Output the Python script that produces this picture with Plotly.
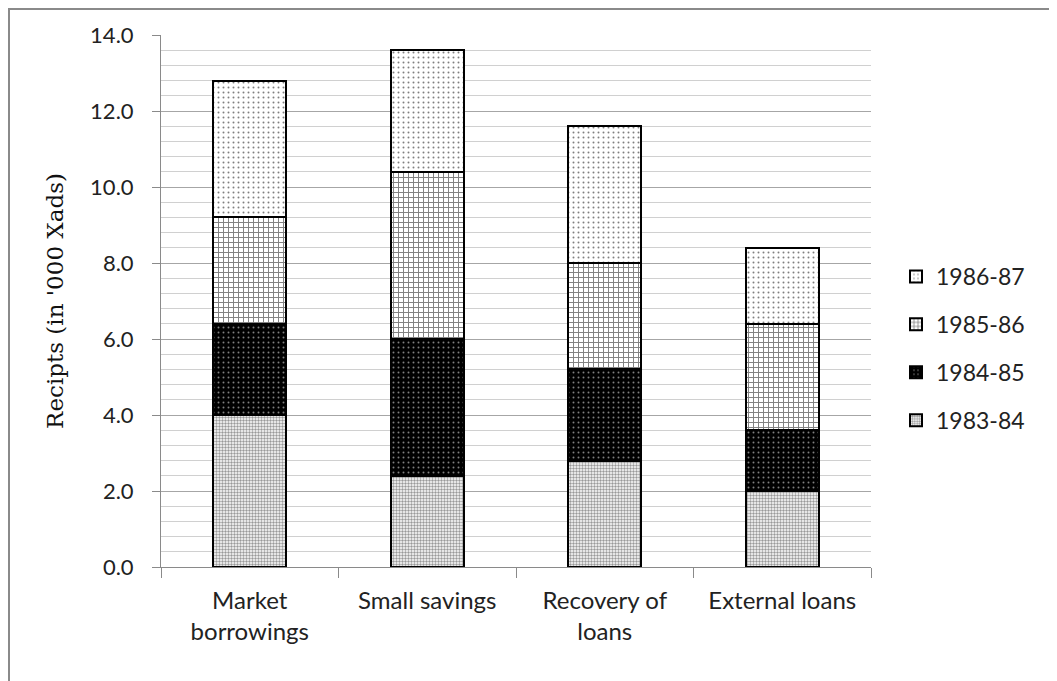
import plotly.graph_objects as go

categories = ["Market<br>borrowings", "Small savings", "Recovery of<br>loans", "External loans"]
years = ["1983-84", "1984-85", "1985-86", "1986-87"]
v_1983_84 = [4.0, 2.4, 2.8, 2.0]
v_1984_85 = [2.4, 3.6, 2.4, 1.6]
v_1985_86 = [2.8, 4.4, 2.8, 2.8]
v_1986_87 = [3.6, 3.2, 3.6, 2.0]
series = [v_1983_84, v_1984_85, v_1985_86, v_1986_87]

styles = [
    dict(color="white", pattern=dict(shape=".", fgcolor="#333333", bgcolor="white", size=3, solidity=0.5)),
    dict(color="black", pattern=dict(shape=".", fgcolor="white", bgcolor="black", size=5, solidity=0.12)),
    dict(color="white", pattern=dict(shape="+", fgcolor="black", bgcolor="white", size=5, solidity=0.35)),
    dict(color="white", pattern=dict(shape=".", fgcolor="black", bgcolor="white", size=5, solidity=0.12)),
]

fig = go.Figure()
n = len(years)
for i, (name, vals, st) in enumerate(zip(years, series, styles)):
    fig.add_trace(go.Bar(
        x=categories, y=vals, name=name, legendgroup=name, legendrank=n - i,
        marker=dict(color=st["color"], pattern=st["pattern"],
                    line=dict(color="black", width=2)),
    ))

OFF = 8  # page body margin
L, R, T, B = 161 - OFF, 871 - OFF, 35 - OFF, 567 - OFF
W, H = 1057, 681
pw, ph = R - L, B - T
def px(x):
    return (x - OFF - L) / pw
def py(y):
    return (B - (y - OFF)) / ph

fig.update_layout(
    width=W, height=H,
    margin=dict(l=L, r=W - R, t=T, b=H - B),
    paper_bgcolor="white", plot_bgcolor="white",
    barmode="stack", bargap=0.59,
    font=dict(family="Lato, Open Sans, sans-serif", size=20, color="#222222"),
    legend=dict(traceorder="grouped", tracegroupgap=15,
                x=px(896), xanchor="left", y=py(255), yanchor="top",
                bgcolor="rgba(0,0,0,0)",
                font=dict(size=23, color="#222222"), itemwidth=30),
    showlegend=True,
    shapes=[
        dict(type="line", xref="paper", yref="paper", x0=px(9), x1=px(9), y0=py(9), y1=py(700),
             line=dict(color="#8a8a8a", width=2)),
        dict(type="line", xref="paper", yref="paper", x0=px(8), x1=px(1080), y0=py(9), y1=py(9),
             line=dict(color="#8a8a8a", width=2)),
    ],
)
fig.update_yaxes(
    range=[0, 14], dtick=2, tickformat=".1f",
    showgrid=True, gridcolor="#a6a6a6", gridwidth=1,
    minor=dict(dtick=0.4, showgrid=True, gridcolor="#d0d0d0", gridwidth=1),
    showline=True, linecolor="#8a8a8a", linewidth=1,
    ticks="outside", ticklen=8, tickcolor="#8a8a8a",
    tickfont=dict(size=22), ticklabelstandoff=14,
    zeroline=False,
    title=dict(text="Recipts (in '000 Xads)", font=dict(family="DejaVu Serif, serif", size=23, color="#111111"), standoff=20),
)
fig.update_xaxes(
    showline=True, linecolor="#8a8a8a", linewidth=1,
    ticks="outside", tickson="boundaries", ticklen=10, tickcolor="#8a8a8a",
    tickfont=dict(size=24), showgrid=False, ticklabelstandoff=12,
)

fig.write_html("out.html")
